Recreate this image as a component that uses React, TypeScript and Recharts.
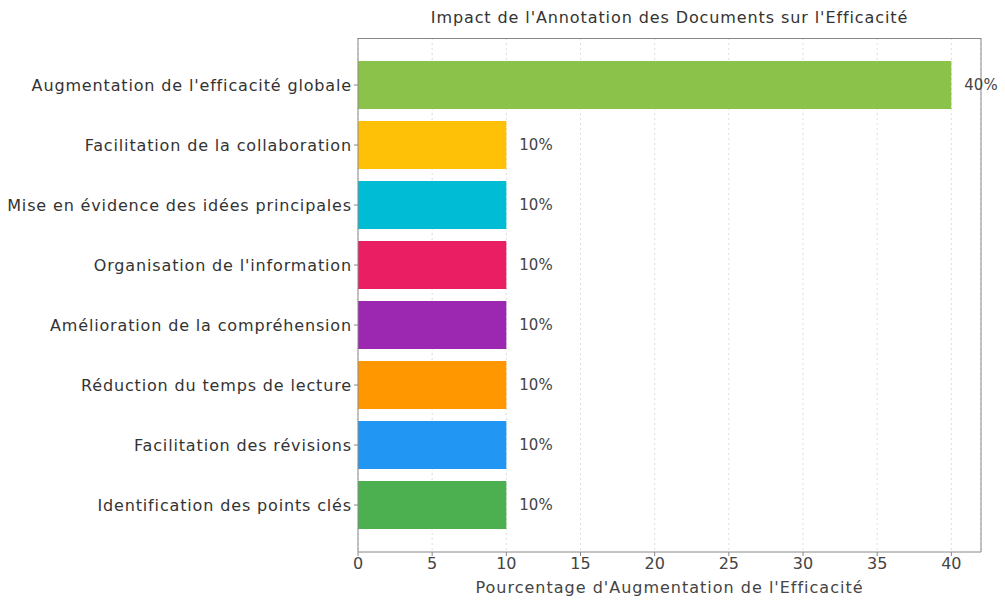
import { BarChart, Bar, XAxis, YAxis, CartesianGrid, Cell, LabelList, ReferenceLine } from 'recharts';

const categories = [
  "Augmentation de l'efficacité globale",
  'Facilitation de la collaboration',
  'Mise en évidence des idées principales',
  "Organisation de l'information",
  'Amélioration de la compréhension',
  'Réduction du temps de lecture',
  'Facilitation des révisions',
  'Identification des points clés',
];

const values = [40, 10, 10, 10, 10, 10, 10, 10];

const colors = ['#8BC34A', '#FFC107', '#00BCD4', '#E91E63', '#9C27B0', '#FF9800', '#2196F3', '#4CAF50'];

const xTicks = [0, 5, 10, 15, 20, 25, 30, 35, 40];

const data = categories.map((name, i) => ({ name, value: values[i] }));

const font = '"DejaVu Sans", sans-serif';

export default function App() {
  return (
    <div style={{ position: 'absolute', left: 0, top: 0, width: 1005, height: 603, background: '#fff', fontFamily: font }}>
      <div
        style={{
          position: 'absolute',
          left: 358,
          width: 623,
          top: 8,
          textAlign: 'center',
          fontSize: 16,
          letterSpacing: 0.9,
          color: '#333',
        }}
      >
        Impact de l'Annotation des Documents sur l'Efficacité
      </div>
      <BarChart
        width={1005}
        height={603}
        data={data}
        layout="vertical"
        margin={{ top: 38, right: 24, bottom: 21, left: 0 }}
      >
        <CartesianGrid horizontal={false} strokeDasharray="2 3" stroke="#ddd" />
        <XAxis
          type="number"
          domain={[0, 42]}
          ticks={xTicks}
          height={30}
          stroke="#888"
          tick={{ fill: '#444', fontSize: 16, fontFamily: font }}
          tickSize={4}
          label={{
            value: "Pourcentage d'Augmentation de l'Efficacité",
            position: 'bottom',
            offset: 0,
            fill: '#444',
            fontSize: 16,
            fontFamily: font,
            style: { letterSpacing: 1 },
          }}
        />
        <YAxis
          type="category"
          dataKey="name"
          width={358}
          padding={{ top: 17, bottom: 17 }}
          stroke="#888"
          tick={{ fill: '#333', fontSize: 16, fontFamily: font, style: { letterSpacing: 0.85 } }}
          tickSize={4}
        />
        <ReferenceLine x={42} stroke="#888" />
        <Bar dataKey="value" barSize={48} isAnimationActive={false}>
          {data.map((d, i) => (
            <Cell key={d.name} fill={colors[i]} />
          ))}
          <LabelList
            dataKey="value"
            position="right"
            offset={13}
            formatter={(v: number) => `${v}%`}
            style={{ fill: '#444', fontSize: 15, fontFamily: font }}
          />
        </Bar>
      </BarChart>
      <div style={{ position: 'absolute', left: 358, top: 38, width: 623, height: 1, background: '#888' }} />
    </div>
  );
}
